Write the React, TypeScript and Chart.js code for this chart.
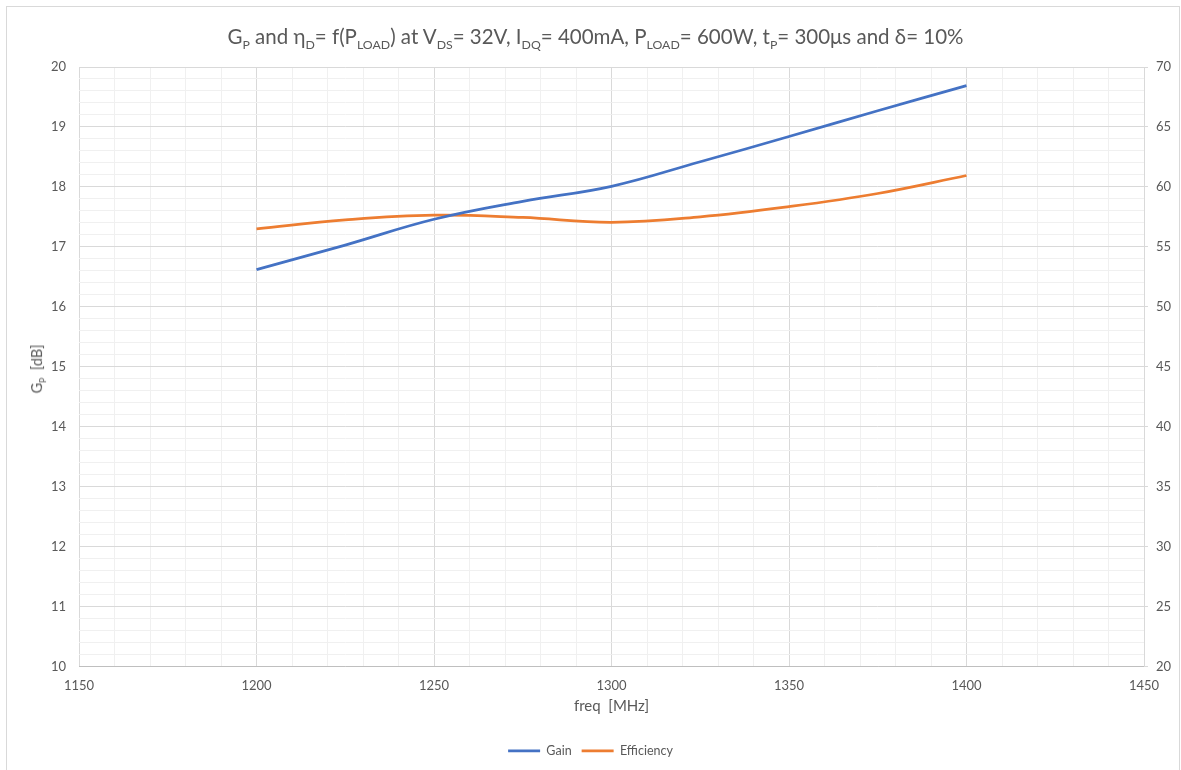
import React, { useEffect, useRef } from "react";
import { Chart, registerables } from "chart.js";

Chart.register(...registerables);

const freqs = [1200, 1225, 1250, 1275, 1300, 1325, 1350, 1375, 1400];
const gain = [16.62, 17.03, 17.46, 17.76, 18.01, 18.42, 18.84, 19.27, 19.69];
const efficiency = [56.5, 57.25, 57.65, 57.45, 57.05, 57.5, 58.35, 59.45, 60.95];
const seriesNames = ["Gain", "Efficiency"];
const xTitle = "freq  [MHz]";

const FONT = "Lato, 'Open Sans', sans-serif";
const TXT = "#595959";

export default function App() {
  const ref = useRef<HTMLCanvasElement | null>(null);

  useEffect(() => {
    if (!ref.current) return;
    const isInt = (v: number) => Math.abs(v - Math.round(v)) < 1e-6;
    const chart = new Chart(ref.current, {
      type: "line",
      data: {
        datasets: [
          {
            label: seriesNames[0],
            data: freqs.map((f, i) => ({ x: f, y: gain[i] })),
            borderColor: "#4472C4",
            backgroundColor: "#4472C4",
            borderWidth: 2.75,
            pointRadius: 0,
            pointStyle: "line",
            tension: 0.4,
            yAxisID: "y",
          },
          {
            label: seriesNames[1],
            data: freqs.map((f, i) => ({ x: f, y: efficiency[i] })),
            borderColor: "#ED7D31",
            backgroundColor: "#ED7D31",
            borderWidth: 2.75,
            pointRadius: 0,
            pointStyle: "line",
            tension: 0.4,
            yAxisID: "y2",
          },
        ],
      },
      options: {
        responsive: false,
        animation: false,
        layout: { padding: { top: 67, bottom: 3, left: 0, right: 0 } },
        plugins: {
          title: { display: false },
          tooltip: { enabled: false },
          legend: {
            position: "bottom",
            labels: {
              usePointStyle: true,
              pointStyleWidth: 32,
              boxHeight: 12,
              padding: 10,
              color: TXT,
              font: { family: FONT, size: 12.5 },
            },
          },
        },
        scales: {
          x: {
            type: "linear",
            min: 1150,
            max: 1450,
            afterFit: (s: any) => {
              s.height = 68;
            },
            ticks: {
              stepSize: 10,
              autoSkip: false,
              maxRotation: 0,
              padding: 12,
              color: TXT,
              font: { family: FONT, size: 13 },
              callback: (v: any) => (Math.round(v) % 50 === 0 ? String(Math.round(v)) : ""),
            },
            grid: {
              drawTicks: false,
              color: (c: any) => (Math.round(c.tick.value) % 50 === 0 ? "#d9d9d9" : "#f0f0f0"),
            },
            border: { display: true, color: "#bfbfbf" },
            title: {
              display: true,
              text: xTitle,
              color: TXT,
              font: { family: FONT, size: 15 },
              padding: { top: 0, bottom: 19 },
            },
          },
          y: {
            type: "linear",
            position: "left",
            min: 10,
            max: 20,
            afterFit: (s: any) => {
              s.width = 79;
            },
            ticks: {
              stepSize: 0.2,
              autoSkip: false,
              padding: 13,
              color: TXT,
              font: { family: FONT, size: 13 },
              callback: (v: any) => (isInt(v) ? String(Math.round(v)) : ""),
            },
            grid: {
              drawTicks: false,
              color: (c: any) => (isInt(c.tick.value) ? "#d9d9d9" : "#f0f0f0"),
            },
            border: { display: false },
          },
          y2: {
            type: "linear",
            position: "right",
            min: 20,
            max: 70,
            afterFit: (s: any) => {
              s.width = 37;
            },
            ticks: {
              stepSize: 5,
              padding: 8,
              color: TXT,
              font: { family: FONT, size: 13 },
            },
            grid: {
              drawOnChartArea: false,
              drawTicks: true,
              tickLength: 4,
              color: "#d9d9d9",
            },
            border: { display: true, color: "#d9d9d9" },
          },
        },
      },
    } as any);
    return () => chart.destroy();
  }, []);

  const sub = { fontSize: "0.6em" };

  return (
    <div
      style={{
        position: "absolute",
        left: 0,
        top: 0,
        width: 1181,
        height: 770,
        overflow: "hidden",
        background: "#fff",
        fontFamily: FONT,
      }}
    >
      <div
        style={{
          position: "absolute",
          left: 6,
          top: 6,
          width: 1174,
          height: 800,
          boxSizing: "border-box",
          border: "1px solid #d9d9d9",
        }}
      />
      <canvas
        ref={ref}
        width={1181}
        height={770}
        style={{ position: "absolute", left: 0, top: 0, width: 1181, height: 770 }}
      />
      <div
        style={{
          position: "absolute",
          left: 0,
          width: 1191,
          top: 21,
          textAlign: "center",
          fontSize: 20.5,
          color: TXT,
          whiteSpace: "nowrap",
          lineHeight: "30px",
        }}
      >
        G<sub style={sub}>P</sub> and η<sub style={sub}>D</sub>= f(P<sub style={sub}>LOAD</sub>) at V
        <sub style={sub}>DS</sub>= 32V, I<sub style={sub}>DQ</sub>= 400mA, P<sub style={sub}>LOAD</sub>= 600W, t
        <sub style={sub}>P</sub>= 300μs and δ= 10%
      </div>
      <div
        style={{
          position: "absolute",
          left: 38,
          top: 369,
          transform: "translate(-50%, -50%) rotate(-90deg)",
          fontSize: 14.5,
          color: TXT,
          whiteSpace: "pre",
        }}
      >
        G<sub style={sub}>P</sub>{"  [dB]"}
      </div>
    </div>
  );
}
